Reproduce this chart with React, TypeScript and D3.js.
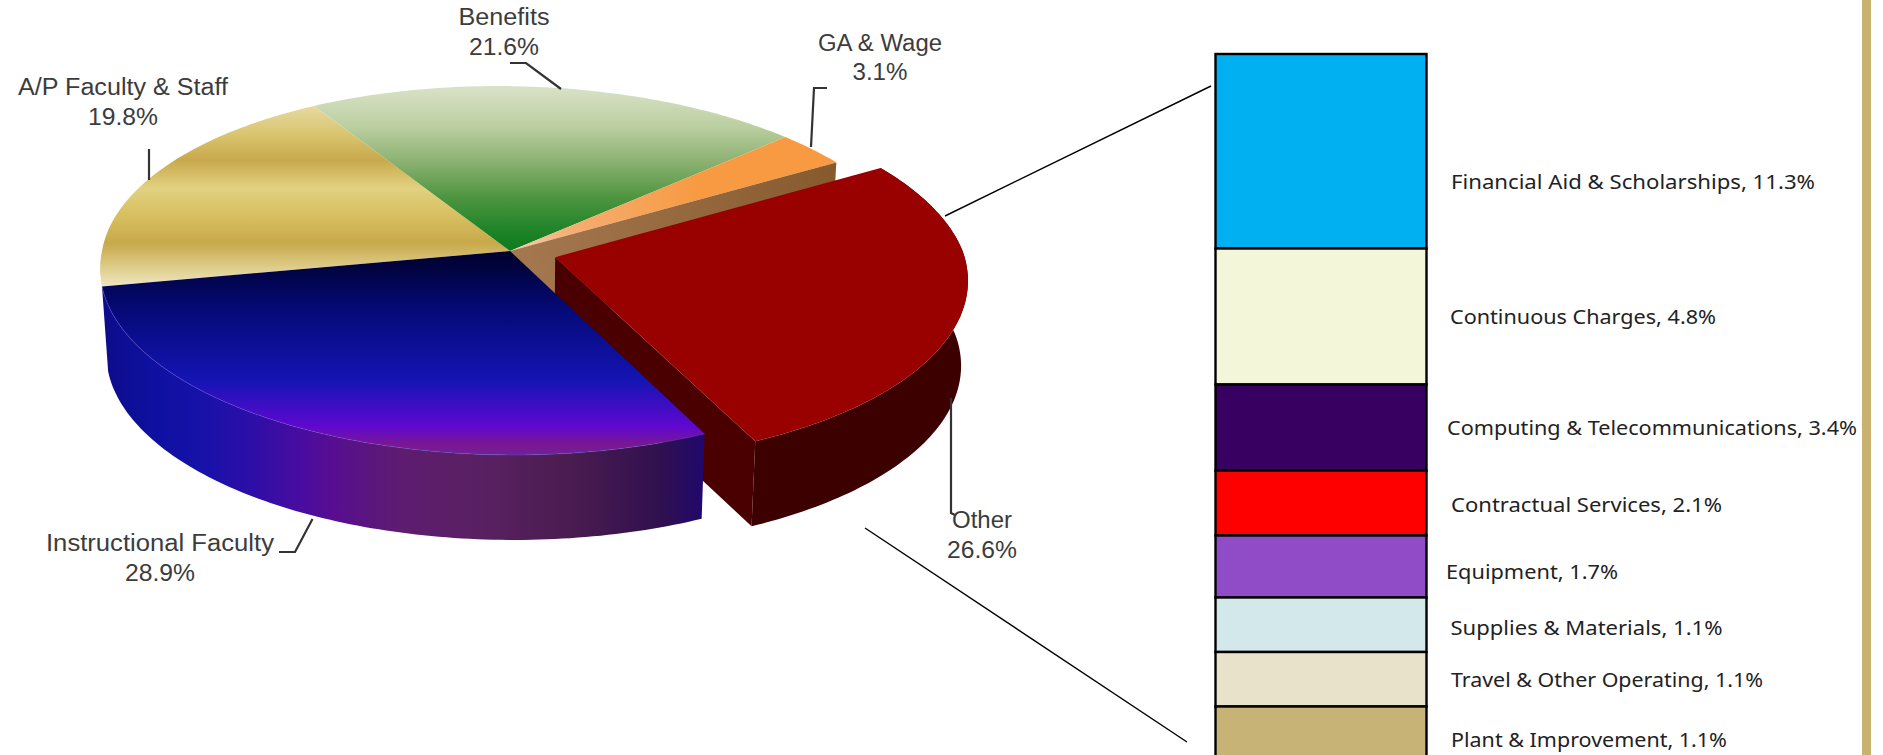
import React from 'react';
import * as d3 from 'd3';

const pieNames = ['A/P Faculty & Staff', 'Benefits', 'GA & Wage', 'Other', 'Instructional Faculty'];
const pieValues = [19.8, 21.6, 3.1, 26.6, 28.9];
const detailNames = [
  'Financial Aid & Scholarships',
  'Continuous Charges',
  'Computing & Telecommunications',
  'Contractual Services',
  'Equipment',
  'Supplies & Materials',
  'Travel & Other Operating',
  'Plant & Improvement',
];
const detailValues = [11.3, 4.8, 3.4, 2.1, 1.7, 1.1, 1.1, 1.1];
const detailColors = ['#00b0f0', '#f4f6da', '#380060', '#ff0000', '#904cc7', '#d2e8ea', '#e9e2cb', '#c8b377'];

const W = 1883;
const H = 755;

// the picture's box heights are not proportional, so the scale is piecewise
const boxHeight = d3.scaleLinear().domain([1.1, 1.7, 2.1, 3.4, 4.8, 11.3]).range([54.5, 62, 65, 86, 136, 194.5]);

// perspective disc
const cx = 510;
const cy = 251;
const rx = 408;
const ry = 182.4;
const persp = 0.1056;
const farShear = 12;
const nearShear = 4;
const depth = 85;
const bottomShrink = 0.985;
const explode = 0.115;

const deg = Math.PI / 180;
const pie = d3.pie<number>().sort(null).startAngle(259 * deg).endAngle(619 * deg);
const slices = pie(pieValues);

type Pt = [number, number];
const project = (u: number, v: number): Pt => {
  const w = 1 - persp * v;
  return [cx + (rx * u) / w + (v < 0 ? farShear : nearShear) * v, cy + (ry * v) / w];
};
const arcPts = (a0: number, a1: number, ox = 0, oy = 0): Pt[] => {
  const n = Math.ceil(Math.abs(a1 - a0) / (1 * deg));
  return d3.range(n + 1).map(i => {
    const a = a0 + ((a1 - a0) * i) / n;
    return project(ox + Math.sin(a), oy - Math.cos(a));
  });
};
const down = (p: Pt): Pt => [cx + (p[0] - cx) * bottomShrink, p[1] + depth];
const line = d3.line<Pt>();
const closed = (pts: Pt[]) => line(pts) + 'Z';

const offsetOf = (s: d3.PieArcDatum<number>, d: number) => {
  const mid = (s.startAngle + s.endAngle) / 2;
  return [d * Math.sin(mid), -d * Math.cos(mid)];
};

const topFace = (s: d3.PieArcDatum<number>, d = 0) => {
  const [ox, oy] = offsetOf(s, d);
  return closed([project(ox, oy), ...arcPts(s.startAngle, s.endAngle, ox, oy)]);
};
const rimSide = (s: d3.PieArcDatum<number>, d = 0) => {
  const [ox, oy] = offsetOf(s, d);
  const top = arcPts(s.startAngle, s.endAngle, ox, oy);
  return closed([...top, ...top.map(down).reverse()]);
};
const cutWall = (s: d3.PieArcDatum<number>, angle: number, d = 0) => {
  const [ox, oy] = offsetOf(s, d);
  const a = project(ox, oy);
  const b = project(ox + Math.sin(angle), oy - Math.cos(angle));
  return closed([a, b, down(b), down(a)]);
};

const [tan, green, orange, red, blue] = slices;

const pieLabels = [
  { i: 0, x: 123, y: 87, w: 210, vy: 117, vw: 70 },
  { i: 1, x: 504, y: 17, w: 91, vy: 47, vw: 70 },
  { i: 2, x: 880, y: 43, w: 124, vy: 72, vw: 55 },
  { i: 3, x: 982, y: 520, w: 60, vy: 550, vw: 70 },
  { i: 4, x: 160, y: 543, w: 228, vy: 573, vw: 70 },
];
const leaders = [
  'M510,63H526L561,89',
  'M827,88H814L811,147',
  'M149,149V180',
  'M279,552H295L312.5,519',
  'M951,398V513L955,515',
];
const detailLabels = [
  { x: 1451, y: 182, w: 364 },
  { x: 1450, y: 317, w: 266 },
  { x: 1447, y: 427.5, w: 410 },
  { x: 1451, y: 504.6, w: 271 },
  { x: 1446, y: 572, w: 172 },
  { x: 1450.5, y: 628, w: 272 },
  { x: 1451, y: 680, w: 312 },
  { x: 1451, y: 740, w: 276 },
];

const stops = (list: [number, string][], lo: number, hi: number) =>
  list.map(([p, c]) => <stop key={p} offset={(p - lo) / (hi - lo)} stopColor={c} />);

export default function App() {
  let y = 54;
  const boxes = detailValues.map((v, i) => {
    const h = boxHeight(v);
    const b = { y, h, color: detailColors[i] };
    y += h;
    return b;
  });

  return (
    <svg width={W} height={H} style={{ position: 'absolute', left: 0, top: 0, display: 'block' }}>
      <defs>
        <linearGradient id="tan" gradientUnits="userSpaceOnUse" x1="0" x2="0" y1="109" y2="290">
          {stops([[109, '#e5d79c'], [135, '#d9c46e'], [160, '#c9a94c'], [188, '#e2d180'], [215, '#d8c060'], [243, '#c8a94a'], [270, '#e0d090'], [288, '#f0e8c8']], 109, 290)}
        </linearGradient>
        <linearGradient id="green" gradientUnits="userSpaceOnUse" x1="0" x2="0" y1="86" y2="252">
          {stops([[86, '#d9e2c8'], [125, '#bdd0a2'], [163, '#8ab070'], [197, '#4e9540'], [230, '#1f8428'], [250, '#0e7a1e']], 86, 252)}
        </linearGradient>
        <linearGradient id="orange" gradientUnits="userSpaceOnUse" x1="510" x2="832" y1="251" y2="159">
          <stop offset="0" stopColor="#f6d0b0" />
          <stop offset="0.2" stopColor="#f6ad70" />
          <stop offset="0.6" stopColor="#f79a42" />
        </linearGradient>
        <linearGradient id="brown" gradientUnits="userSpaceOnUse" x1="510" x2="832" y1="251" y2="159">
          <stop offset="0" stopColor="#a57850" />
          <stop offset="1" stopColor="#875a2e" />
        </linearGradient>
        <linearGradient id="blue" gradientUnits="userSpaceOnUse" x1="0" x2="0" y1="251" y2="456">
          {stops([[251, '#000028'], [310, '#050a78'], [380, '#1414b4'], [427, '#6008d0'], [445, '#7a1890'], [455, '#70209a']], 251, 456)}
        </linearGradient>
        <linearGradient id="blueSide" gradientUnits="userSpaceOnUse" x1="99" x2="701" y1="0" y2="0">
          {stops([[99, '#0c0c88'], [150, '#0e10a0'], [200, '#1612a8'], [250, '#2c0ea8'], [300, '#480ca0'], [335, '#580e90'], [400, '#5e1c70'], [490, '#582060'], [570, '#4a1c50'], [660, '#30104f'], [701, '#22086a']], 99, 701)}
        </linearGradient>
      </defs>

      <rect x={1862} y={0} width={9} height={H} fill="#c9b26f" />

      <path d={topFace(tan)} fill="url(#tan)" />
      <path d={topFace(green)} fill="url(#green)" />
      <path d={topFace(orange)} fill="url(#orange)" />
      <path d={cutWall(orange, orange.endAngle)} fill="url(#brown)" />

      <path d={rimSide(red, explode)} fill="#3c0000" />
      <path d={cutWall(red, red.endAngle, explode)} fill="#4a0000" />

      <path d={rimSide(blue)} fill="url(#blueSide)" />
      <path d={topFace(blue)} fill="url(#blue)" />
      <path d={line(arcPts(blue.startAngle, blue.endAngle)) ?? ''} fill="none" stroke="#5a50d0" strokeOpacity={0.45} strokeWidth={1} />
      <path d={topFace(red, explode)} fill="#990000" />

      <g fill="none" stroke="#333" strokeWidth={2.2}>
        {leaders.map(d => <path key={d} d={d} />)}
      </g>
      <g fontFamily="'Liberation Sans Narrow','Liberation Sans',sans-serif" fontSize={23} fill="#3c3c3c" textAnchor="middle">
        {pieLabels.map(l => (
          <g key={l.i}>
            <text x={l.x} y={l.y + 8} textLength={l.w} lengthAdjust="spacingAndGlyphs">{pieNames[l.i]}</text>
            <text x={l.x} y={l.vy + 8} textLength={l.vw} lengthAdjust="spacingAndGlyphs">{pieValues[l.i].toFixed(1)}%</text>
          </g>
        ))}
      </g>

      <line x1={945} y1={216} x2={1211} y2={86} stroke="#000" strokeWidth={1.4} />
      <line x1={865} y1={528} x2={1187} y2={742} stroke="#000" strokeWidth={1.4} />

      {boxes.map(b => (
        <rect key={b.y} x={1215.5} y={b.y} width={211} height={b.h} fill={b.color} stroke="#000" strokeWidth={2.4} />
      ))}
      <g fontFamily="'Noto Sans',sans-serif" fontSize={20} fill="#222">
        {detailNames.map((name, i) => (
          <text key={name} x={detailLabels[i].x} y={detailLabels[i].y + 7} textLength={detailLabels[i].w} lengthAdjust="spacingAndGlyphs">
            {name}, {detailValues[i]}%
          </text>
        ))}
      </g>
    </svg>
  );
}
